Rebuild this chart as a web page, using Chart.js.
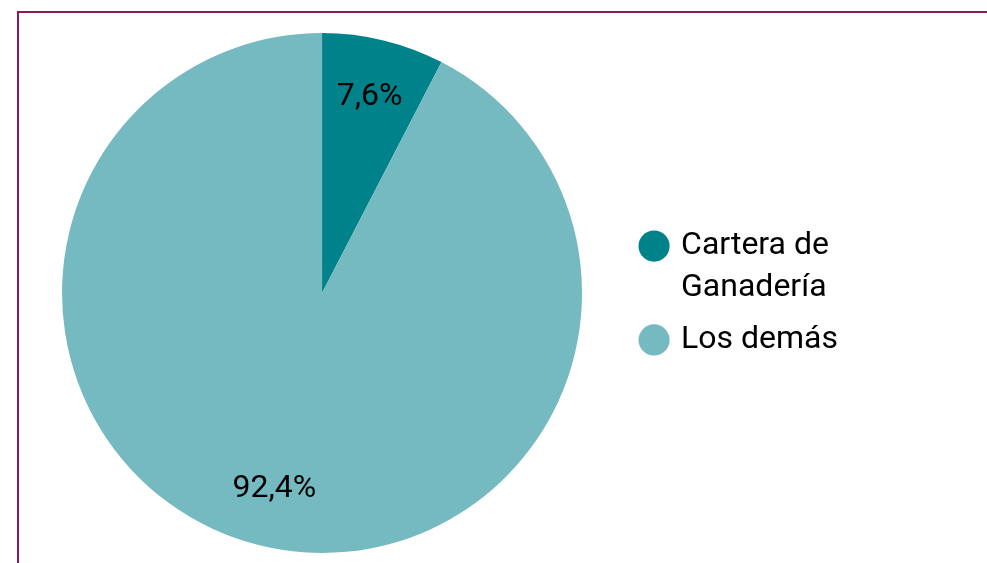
<!DOCTYPE html>
<html>
<head>
<meta charset="utf-8">
<script src="https://cdn.jsdelivr.net/npm/chart.js@4/dist/chart.umd.min.js"></script>
<style>
  html, body { margin: 0; padding: 0; background: #fff; overflow: hidden; }
  #frame {
    position: absolute; left: 17px; top: 11px; width: 1000px; height: 600px;
    border-left: 2px solid #8c1a5b; border-top: 2px solid #8c1a5b;
  }
  #wrap { position: absolute; left: 0; top: 0; width: 987px; height: 563px; }
</style>
</head>
<body>
<div id="frame"></div>
<div id="wrap"><canvas id="pie-chart"></canvas></div>
<script>
  var labels = [["Cartera de", "Ganadería"], "Los demás"];
  var values = [7.6, 92.4];
  var valueLabels = ["7,6%", "92,4%"];
  var colors = ["#00828b", "#76bac1"];

  // percentage labels inside the slices
  var sliceLabels = {
    id: 'sliceLabels',
    afterDatasetsDraw: function(chart) {
      var ctx = chart.ctx;
      var meta = chart.getDatasetMeta(0);
      ctx.save();
      ctx.font = '32px Roboto';
      ctx.fillStyle = '#000';
      ctx.textAlign = 'center';
      ctx.textBaseline = 'middle';
      meta.data.forEach(function(arc, i) {
        var p = arc.getProps(['x', 'y', 'startAngle', 'endAngle', 'outerRadius']);
        var mid = (p.startAngle + p.endAngle) / 2;
        var r = p.outerRadius * 0.775;
        ctx.fillText(valueLabels[i], p.x + Math.cos(mid) * r, p.y + Math.sin(mid) * r);
      });
      ctx.restore();
    }
  };

  new Chart(document.getElementById("pie-chart"), {
    type: 'pie',
    data: {
      labels: labels,
      datasets: [{
        data: values,
        backgroundColor: colors,
        borderWidth: 0
      }]
    },
    options: {
      responsive: true,
      maintainAspectRatio: false,
      animation: false,
      layout: { padding: { top: 33, bottom: 10, left: 11, right: 139 } },
      plugins: {
        tooltip: { enabled: false },
        legend: {
          position: 'right',
          labels: {
            usePointStyle: true,
            pointStyle: 'circle',
            boxWidth: 22,
            boxHeight: 22,
            padding: 10,
            color: '#000',
            font: { family: 'Roboto', size: 32, lineHeight: 1.31 }
          }
        }
      }
    },
    plugins: [sliceLabels]
  });
</script>
</body>
</html>
